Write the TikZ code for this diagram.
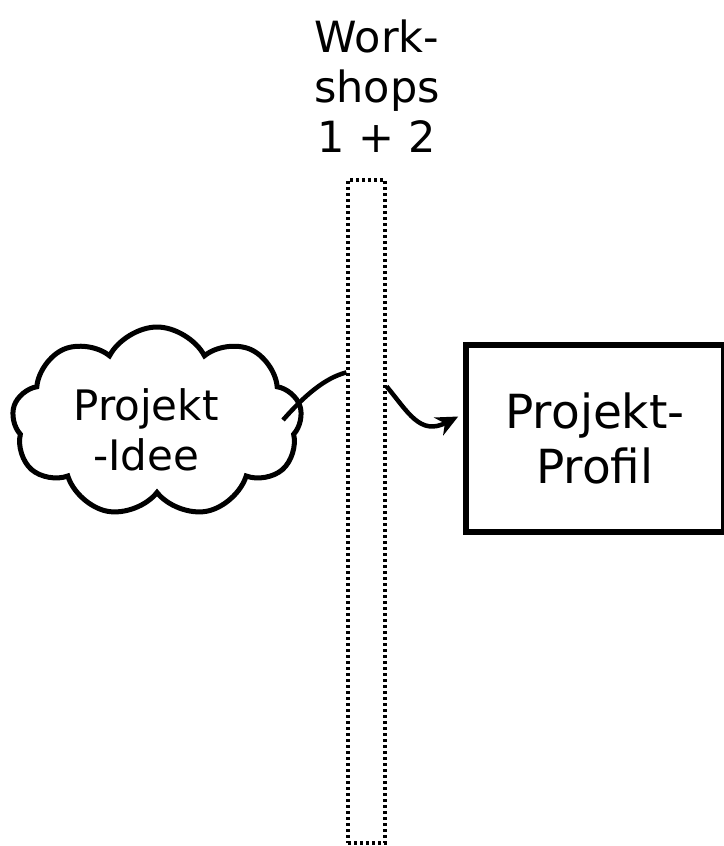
\documentclass[tikz,border=0pt]{standalone}
\usepackage{fontspec}
\setmainfont{DejaVu Sans}
\usetikzlibrary{shapes.symbols,arrows.meta,calc}
\begin{document}
\begin{tikzpicture}[x=1pt,y=-1pt,
  lbl/.style={align=center,font=\fontsize{43}{50}\selectfont},
  barbox/.style={draw,line width=3.2pt,dash pattern=on 3pt off 3pt,minimum width=37pt,minimum height=663pt,inner sep=0pt},
  ideacloud/.style={draw,cloud,cloud puffs=9,cloud puff arc=125,aspect=1.55,line width=5pt,minimum width=290pt,minimum height=190pt,inner sep=0pt},
  ideatext/.style={align=center,font=\fontsize{42}{50}\selectfont},
  profilbox/.style={draw,line width=5.5pt,minimum width=258pt,minimum height=187pt,inner sep=0pt,align=center,font=\fontsize{47}{55}\selectfont},
  conn/.style={line width=4.5pt}]
\useasboundingbox (0,0) rectangle (723,846);
\node[lbl] (title) at (377,86) {Work-\\shops\\1 + 2};
\node[barbox] (bar) at (366.5,511.5) {};
\node[ideacloud] (idea) at (157,422) {};
\node[ideatext] (ideatxt) at (146,430) {Projekt\\-Idee};
\node[profilbox] (profil) at (595,438.5) {Projekt-\\Profil};
\coordinate (barinL) at ($(bar.north west)+(0,194)$);
\coordinate (barinR) at ($(bar.north east)+(0,208)$);
\coordinate (cloudout) at (283,420);
\coordinate (arrowend) at ($(profil.west)+(-5,-22)$);
\draw[conn] (cloudout) .. controls (305,395) and (325,378) .. (barinL);
\draw[conn,-{Stealth[length=22pt,width=20pt,inset=7pt]}] (barinR) .. controls (408,412) and (420,436) .. (arrowend);
\end{tikzpicture}
\end{document}
